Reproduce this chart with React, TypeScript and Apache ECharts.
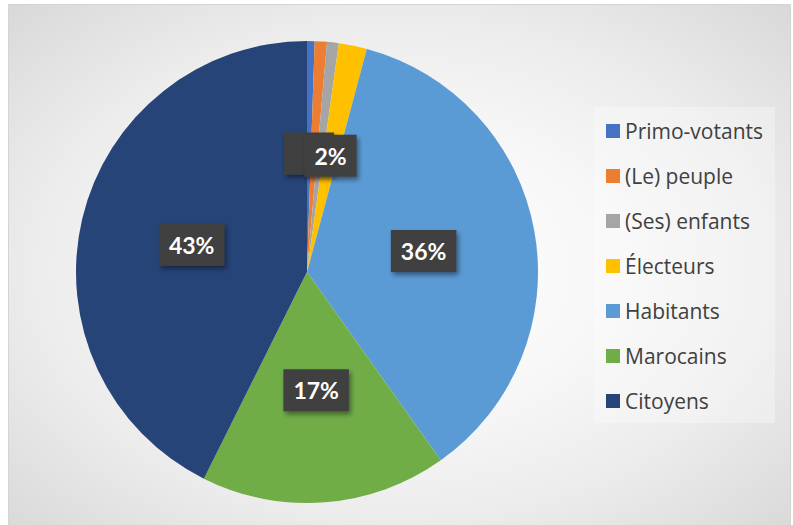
import { useEffect, useRef } from 'react';
import * as echarts from 'echarts';

const categories = ['Primo-votants', '(Le) peuple', '(Ses) enfants', 'Électeurs', 'Habitants', 'Marocains', 'Citoyens'];
const shares = [0.53, 0.85, 0.82, 1.97, 36.0, 17.2, 42.63];
const colors = ['#4472C4', '#ED7D31', '#A5A5A5', '#FFC000', '#5B9BD5', '#70AD47', '#264478'];
// 'box' = label shown, 'blank' = empty label box, 'none' = no label
const labelModes = ['blank', 'none', 'none', 'box', 'box', 'box', 'box'];

export default function App() {
  const ref = useRef<HTMLDivElement>(null);

  useEffect(() => {
    if (!ref.current) return;
    const chart = echarts.init(ref.current, null, { renderer: 'svg' });

    const boxLabel: any = {
      show: true,
      position: 'inside',
      color: '#ffffff',
      fontFamily: 'Lato',
      fontWeight: 'bold',
      fontSize: 23,
      lineHeight: 24,
      backgroundColor: '#414141',
      padding: [9, 10],
      shadowColor: 'rgba(0,0,0,0.45)',
      shadowBlur: 5,
      shadowOffsetX: 2,
      shadowOffsetY: 3,
      formatter: (p: any) => Math.round(p.percent) + '%',
    };

    const data = categories.map((name, i) => {
      const mode = labelModes[i];
      let label: any;
      if (mode === 'box') label = boxLabel;
      else if (mode === 'blank')
        label = {
          ...boxLabel,
          formatter: '{e|}',
          rich: { e: { width: 30, height: 24, lineHeight: 24 } },
        };
      else label = { show: false };
      return { name, value: shares[i], itemStyle: { color: colors[i] }, label };
    });

    chart.setOption({
      animation: false,
      graphic: [
        {
          type: 'rect',
          z: -10,
          silent: true,
          shape: { x: 0.5, y: 0.5, width: 782, height: 530 },
          style: {
            fill: {
              type: 'radial',
              x: 0.5,
              y: 0.5,
              r: 0.9,
              colorStops: [
                { offset: 0, color: '#ffffff' },
                { offset: 0.3, color: '#f7f7f7' },
                { offset: 0.52, color: '#ececec' },
                { offset: 0.79, color: '#d8d8d8' },
                { offset: 1, color: '#c4c4c4' },
              ],
            },
            stroke: '#d4d4d4',
            lineWidth: 1,
          },
        },
        {
          type: 'rect',
          z: 1,
          silent: true,
          shape: { x: 586, y: 103, width: 181, height: 316 },
          style: { fill: 'rgba(255,255,255,0.3)' },
        },
      ],
      legend: {
        orient: 'vertical',
        left: 598,
        top: 116,
        padding: 0,
        itemWidth: 14,
        itemHeight: 14,
        itemGap: 23,
        icon: 'rect',
        data: categories,
        textStyle: {
          color: '#404040',
          fontFamily: 'Open Sans',
          fontSize: 21,
          lineHeight: 22,
        },
      },
      series: [
        {
          type: 'pie',
          center: [299, 268],
          radius: [0, 231],
          startAngle: 90,
          clockwise: true,
          label: boxLabel,
          labelLine: { show: false },
          labelLayout: { hideOverlap: false },
          emphasis: { disabled: true },
          data,
        },
      ],
    });

    return () => chart.dispose();
  }, []);

  return (
    <div
      ref={ref}
      style={{ position: 'absolute', left: 8, top: 4, width: 783, height: 521 }}
    />
  );
}
